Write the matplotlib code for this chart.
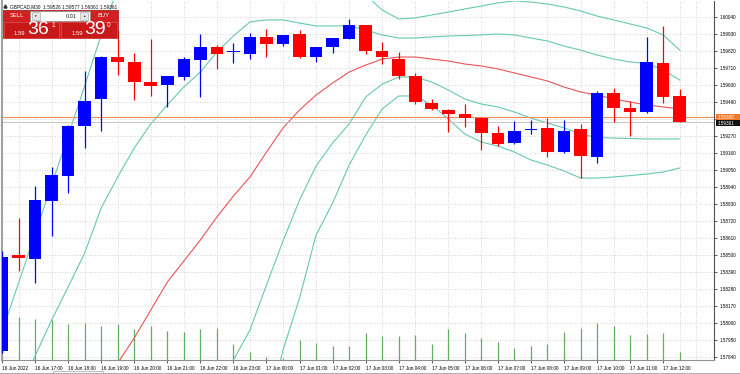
import matplotlib
matplotlib.use("Agg")
import matplotlib.pyplot as plt
import numpy as np
from matplotlib.patches import Rectangle

nan = np.nan

# GBPCAD M30 candles, 16 Jun 16:00 .. 17 Jun 12:30
opens = [1.57879, 1.58498, 1.58476, 1.58851, 1.59009, 1.59337, 1.59507, 1.59783, 1.59747, 1.59621,
         1.59602, 1.59654, 1.59762, 1.59844, 1.59812, 1.59799, 1.59913, 1.59865, 1.59928, 1.59779,
         1.59846, 1.59898, 1.59986, 1.59820, 1.59768, 1.59658, 1.59485, 1.59438, 1.59414, 1.59388,
         1.59287, 1.59223, 1.59312, 1.59322, 1.59168, 1.59313, 1.59136, 1.59546, 1.59451, 1.59423,
         1.59740, 1.59526]
highs = [1.58526, 1.58739, 1.58948, 1.59071, 1.59340, 1.59693, 1.59785, 1.59956, 1.59805, 1.59896,
         1.59660, 1.59783, 1.59928, 1.59859, 1.59870, 1.59938, 1.59960, 1.59925, 1.59956, 1.59846,
         1.59905, 1.60027, 1.59990, 1.59876, 1.59815, 1.59680, 1.59507, 1.59442, 1.59475, 1.59390,
         1.59335, 1.59369, 1.59373, 1.59385, 1.59373, 1.59346, 1.59563, 1.59579, 1.59498, 1.59909,
         1.59982, 1.59577]
lows = [1.57865, 1.58397, 1.58317, 1.58625, 1.58899, 1.59194, 1.59304, 1.59665, 1.59503, 1.59531,
        1.59460, 1.59632, 1.59524, 1.59702, 1.59740, 1.59768, 1.59783, 1.59854, 1.59775, 1.59747,
        1.59805, 1.59895, 1.59801, 1.59736, 1.59639, 1.59477, 1.59440, 1.59298, 1.59330, 1.59179,
        1.59205, 1.59220, 1.59283, 1.59136, 1.59158, 1.58996, 1.59093, 1.59363, 1.59270, 1.59420,
        1.59485, 1.59361]
closes = [1.58487, 1.58479, 1.58854, 1.59018, 1.59335, 1.59496, 1.59783, 1.59751, 1.59617, 1.59595,
          1.59658, 1.59766, 1.59848, 1.59801, 1.59818, 1.59913, 1.59865, 1.59922, 1.59779, 1.59844,
          1.59902, 1.59986, 1.59822, 1.59779, 1.59660, 1.59488, 1.59443, 1.59410, 1.59385, 1.59287,
          1.59218, 1.59304, 1.59318, 1.59165, 1.59304, 1.59141, 1.59550, 1.59449, 1.59425, 1.59747,
          1.59520, 1.59361]
volumes = [1700, 1740, 1650, 1610, 1450, 1480, 1360, 1450, 1230, 1380,
           1160, 1110, 1230, 1290, 660, 330, 130, 90, 790, 690,
           560, 560, 1080, 950, 950, 1020, 660, 1230, 1080, 900,
           710, 490, 570, 660, 1120, 1290, 1480, 1350, 990, 1060,
           1080, 330]

# Bollinger bands (middle, +-1 and +-2 deviations)
bb_mid = [nan, nan, nan, nan, nan, nan, 1.57626, 1.57801, 1.57963, 1.58144,
          1.58325, 1.58461, 1.58597, 1.58746, 1.58882, 1.59005, 1.59166, 1.59322, 1.59438, 1.59535,
          1.59613, 1.59684, 1.59729, 1.59768, 1.59781, 1.59781, 1.59768, 1.59755, 1.59736, 1.59723,
          1.59704, 1.59678, 1.59652, 1.59626, 1.59587, 1.59555, 1.59535, 1.59509, 1.59490, 1.59471,
          1.59458, 1.59445]
bb_up1 = [nan, 1.57607, 1.57846, 1.58079, 1.58293, 1.58513, 1.58804, 1.59005, 1.59192, 1.59348,
          1.59471, 1.59587, 1.59684, 1.59814, 1.59917, 1.60008, 1.60021, 1.60021, 1.60001, 1.59982,
          1.59982, 1.59982, 1.59956, 1.59924, 1.59904, 1.59904, 1.59911, 1.59917, 1.59920, 1.59924,
          1.59930, 1.59924, 1.59904, 1.59885, 1.59852, 1.59826, 1.59794, 1.59768, 1.59749, 1.59739,
          1.59697, 1.59632]
bb_up2 = [1.58002, 1.58319, 1.58636, 1.58953, 1.59270, 1.59594, 1.59924, 1.60228, 1.60422, 1.60551,
          1.60616, 1.60687, 1.60771, 1.60881, 1.60952, 1.61011, 1.60875, 1.60719, 1.60564, 1.60428,
          1.60351, 1.60279, 1.60182, 1.60085, 1.60027, 1.60034, 1.60053, 1.60072, 1.60092, 1.60111,
          1.60131, 1.60144, 1.60137, 1.60124, 1.60105, 1.60079, 1.60046, 1.60021, 1.59995, 1.59969,
          1.59924, 1.59826]
bb_lo1 = [nan, nan, nan, nan, nan, nan, nan, nan, nan, nan,
          nan, nan, nan, 1.57594, 1.57821, 1.58015, 1.58306, 1.58591, 1.58856, 1.59076,
          1.59225, 1.59348, 1.59522, 1.59606, 1.59652, 1.59652, 1.59619, 1.59568, 1.59509, 1.59477,
          1.59458, 1.59425, 1.59386, 1.59354, 1.59322, 1.59283, 1.59260, 1.59257, 1.59254, 1.59251,
          1.59251, 1.59251]
bb_lo2 = [nan, nan, nan, nan, nan, nan, nan, nan, nan, nan,
          nan, nan, nan, nan, nan, nan, 1.57445, 1.57885, 1.58222, 1.58629,
          1.58836, 1.59082, 1.59276, 1.59445, 1.59529, 1.59529, 1.59471, 1.59380, 1.59283, 1.59231,
          1.59205, 1.59166, 1.59115, 1.59082, 1.59044, 1.58998, 1.58998, 1.59005, 1.59014, 1.59024,
          1.59037, 1.59063]

bid = 1.59361
ask = 1.59390

time_labels = ["16 Jun 2022", "16 Jun 17:00", "16 Jun 18:00", "16 Jun 19:00", "16 Jun 20:00",
               "16 Jun 21:00", "16 Jun 22:00", "16 Jun 23:00", "17 Jun 00:00", "17 Jun 01:00",
               "17 Jun 02:00", "17 Jun 03:00", "17 Jun 04:00", "17 Jun 05:00", "17 Jun 06:00",
               "17 Jun 07:00", "17 Jun 08:00", "17 Jun 09:00", "17 Jun 10:00", "17 Jun 11:00",
               "17 Jun 12:00"]
price_ticks = [1.57840, 1.57950, 1.58060, 1.58170, 1.58280, 1.58390, 1.58500, 1.58610, 1.58720,
               1.58830, 1.58940, 1.59050, 1.59160, 1.59270, 1.59380, 1.59490, 1.59600, 1.59710,
               1.59820, 1.59930, 1.60040]
hidden_tick = 1.59380  # covered by the bid/ask labels

W, H = 740, 374
FONT = "Liberation Sans"
plt.rcParams["font.family"] = [FONT, "DejaVu Sans"]

fig = plt.figure(figsize=(W / 100, H / 100), dpi=100)
fig.patch.set_facecolor("white")
ax = fig.add_axes([2 / W, 1 - 360 / H, 712 / W, 359 / H])
ax.set_xlim(0, 712 / 16.53)
ax.set_ylim(1.57821, 1.601435)
ax.set_facecolor("white")

n = len(opens)
x = np.arange(n)

# grid
ax.set_xticks(x[::2])
ax.set_xticklabels(time_labels)
ax.set_xticks(np.arange(43), minor=True)
ax.set_yticks(price_ticks)
ax.set_yticklabels(["" if abs(p - hidden_tick) < 1e-7 else "%.5f" % p for p in price_ticks])
ax.yaxis.tick_right()
ax.grid(which="minor", axis="x", color="#c8c8c8", lw=0.6, ls=(0, (1, 2)))
ax.grid(which="major", axis="y", color="#c8c8c8", lw=0.6, ls=(0, (1, 2)))
ax.tick_params(axis="x", which="major", length=2.5, width=0.6, pad=1.5, labelsize=3.4, color="#404040")
ax.tick_params(axis="x", which="minor", length=0)
ax.tick_params(axis="y", length=2.5, width=0.6, pad=1.5, labelsize=3.3, color="#404040")
for lab in ax.get_xticklabels():
    lab.set_ha("left")
ax.spines["top"].set_visible(False)
ax.spines["right"].set_color("#505050")
ax.spines["bottom"].set_color("#909090")
ax.spines["left"].set_color("#a0a0a0")
ax.spines["left"].set_linewidth(1.5)
ax.set_axisbelow(True)

# volumes
VOL_FULL = 14360.0
ax.vlines(x, 0, np.array(volumes) / VOL_FULL, transform=ax.get_xaxis_transform(),
          colors="#62ad62", lw=0.9, zorder=1)

# bands
teal = "#66c8b2"
ax.plot(x, bb_up2, color=teal, lw=0.8, zorder=2)
ax.plot(x, bb_up1, color=teal, lw=0.8, zorder=2)
ax.plot(x, bb_lo1, color=teal, lw=0.8, zorder=2)
ax.plot(x, bb_lo2, color=teal, lw=0.8, zorder=2)
ax.plot(x, bb_mid, color="#e85454", lw=0.8, zorder=2)

# bid / ask lines
ax.axhline(ask, color="#f08c55", lw=0.8, zorder=2)
ax.axhline(bid, color="#c8c8c8", lw=0.8, zorder=2)

# candles
o = np.array(opens)
c = np.array(closes)
cols = np.where(c >= o, "#0000ff", "#ff0000")
ax.vlines(x, lows, highs, colors=cols, lw=0.9, zorder=3)
body_h = np.maximum(np.abs(c - o), 0.00003)
body_b = np.minimum(o, c) - np.where(np.abs(c - o) < 0.00003, 0.000015, 0)
ax.bar(x, body_h, bottom=body_b, width=0.76, color=cols, lw=0, zorder=4)

# overlay in pixel coordinates (y down) for panel and price labels
ov = fig.add_axes([0, 0, 1, 1], zorder=10)
ov.set_xlim(0, W)
ov.set_ylim(H, 0)
ov.axis("off")


def price_px(p):
    return H - ax.transData.transform((0, p))[1]


# price labels on the right axis
ya = price_px(ask)
yb = price_px(bid)
ov.add_patch(Rectangle((715.5, ya - 3), 24.5, 5.8, fc="#f07a2a", ec="none"))
ov.text(718, ya - 0.1, "%.5f" % ask, fontsize=3.3, color="white", va="center", ha="left")
ov.add_patch(Rectangle((715.5, ya + 2.8), 24.5, 5.8, fc="#101010", ec="none"))
ov.text(718, ya + 5.7, "%.5f" % bid, fontsize=3.3, color="white", va="center", ha="left")

# header and one-click trading panel
ov.plot([4.5], [6], marker="^", ms=2.2, color="#303030")
ov.text(10, 6.3, "GBPCAD,M30  1.59526 1.59577 1.59361 1.59361", fontsize=3.4, va="center", ha="left", color="#101010")

red = "#d02020"
ov.add_patch(Rectangle((3, 10), 115, 28, fc=red, ec="#a01010", lw=0.5))
ov.add_patch(Rectangle((30, 10.8), 59.5, 10, fc="white", ec="#909090", lw=0.5))
ov.add_patch(Rectangle((31.5, 12), 8, 7.5, fc="#e6e6e6", ec="#a0a0a0", lw=0.4))
ov.add_patch(Rectangle((80, 12), 8, 7.5, fc="#e6e6e6", ec="#a0a0a0", lw=0.4))
ov.text(35.5, 15.9, "\u25bc", fontsize=2.5, ha="center", va="center", color="#303030")
ov.text(84, 15.7, "\u25b2", fontsize=2.5, ha="center", va="center", color="#303030")
ov.text(77, 16, "0.01", fontsize=4, ha="right", va="center", color="#202020")
ov.text(16.5, 15.7, "SELL", fontsize=4.2, ha="center", va="center", color="white")
ov.text(103.5, 15.7, "BUY", fontsize=4.2, ha="center", va="center", color="white")
ov.add_patch(Rectangle((4, 21.5), 55, 16, fc="#c81818", ec="#e06060", lw=0.4))
ov.add_patch(Rectangle((61, 21.5), 56, 16, fc="#c81818", ec="#e06060", lw=0.4))
ov.text(19.5, 33.5, "1.59", fontsize=4.2, ha="center", va="center", color="white")
ov.text(38, 29.5, "36", fontsize=14, ha="center", va="center", color="white")
ov.text(53, 25.5, "1", fontsize=4.8, ha="center", va="center", color="white")
ov.text(77, 33.5, "1.59", fontsize=4.2, ha="center", va="center", color="white")
ov.text(95.5, 29.5, "39", fontsize=14, ha="center", va="center", color="white")
ov.text(109, 25.5, "0", fontsize=4.8, ha="center", va="center", color="white")

# tab bar at the very bottom
ov.plot([0, W], [372.5, 372.5], color="#a0a0a0", lw=0.6)
ov.add_patch(Rectangle((53, 370.5), 50, 4, fc="white", ec="#a0a0a0", lw=0.5))

fig.savefig("out.png", dpi=100)
